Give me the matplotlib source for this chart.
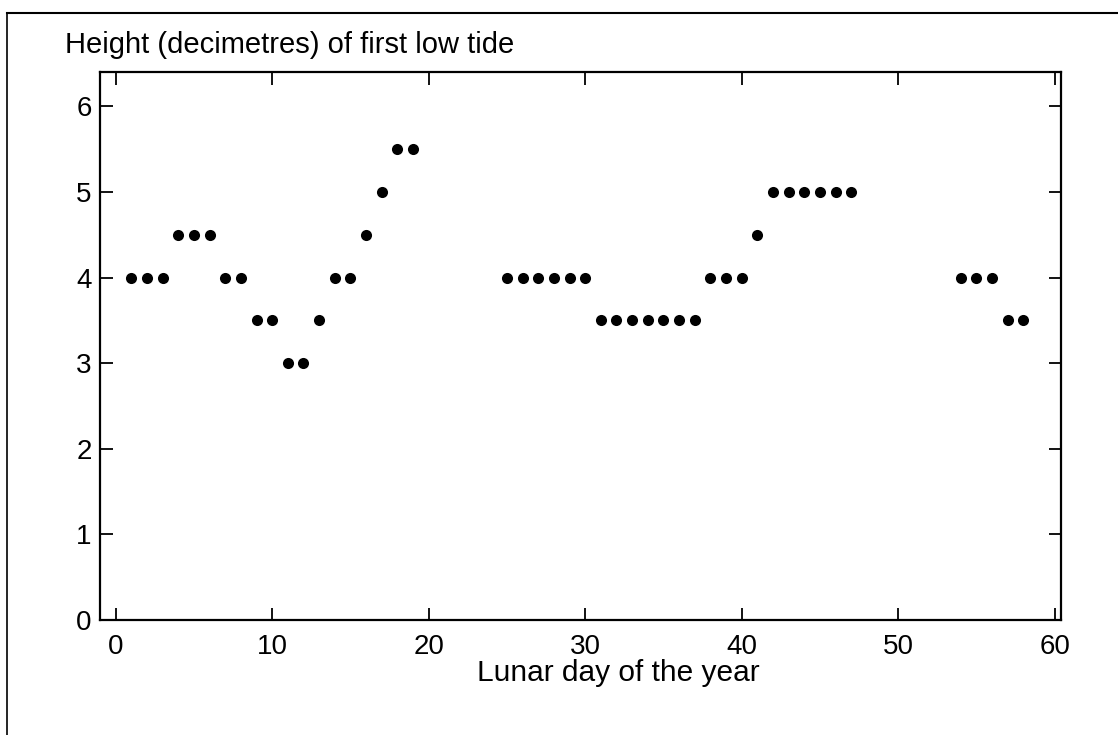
import matplotlib
matplotlib.use("Agg")
import matplotlib.pyplot as plt
from matplotlib.lines import Line2D

plt.rcParams['font.family'] = ['Liberation Sans', 'DejaVu Sans']

days = [1, 2, 3, 4, 5, 6, 7, 8, 9, 10, 11, 12, 13, 14, 15, 16, 17, 18, 19,
        25, 26, 27, 28, 29, 30, 31, 32, 33, 34, 35, 36, 37,
        38, 39, 40, 41, 42, 43, 44, 45, 46, 47,
        54, 55, 56, 57, 58]
heights = [4, 4, 4, 4.5, 4.5, 4.5, 4, 4, 3.5, 3.5, 3, 3, 3.5, 4, 4, 4.5, 5, 5.5, 5.5,
           4, 4, 4, 4, 4, 4, 3.5, 3.5, 3.5, 3.5, 3.5, 3.5, 3.5,
           4, 4, 4, 4.5, 5, 5, 5, 5, 5, 5,
           4, 4, 4, 3.5, 3.5]
xticks = [0, 10, 20, 30, 40, 50, 60]
yticks = [0, 1, 2, 3, 4, 5, 6]
title = "Height (decimetres) of first low tide"
xlabel = "Lunar day of the year"

W, H = 1118, 735
fig = plt.figure(figsize=(W / 100, H / 100), dpi=100)
ax = fig.add_axes([100 / W, 1 - 620 / H, (1061 - 100) / W, (620 - 72) / H])

ax.plot(days, heights, 'o', color='black', markersize=8, markeredgewidth=0)

ax.set_xlim(-1, 60.4)
ax.set_ylim(0, 6.4)
ax.set_xticks(xticks)
ax.set_yticks(yticks)
ax.tick_params(direction='in', length=9, width=1.3, top=True, right=True,
               labelsize=20, colors='black')
ax.tick_params(axis='x', pad=10)
ax.tick_params(axis='y', pad=6)
for s in ax.spines.values():
    s.set_linewidth(1.6)
ax.set_xlabel(xlabel, fontsize=21.5, labelpad=2)
ax.xaxis.set_label_coords((618 - 100) / 961, -0.0, transform=ax.transAxes)
ax.xaxis.label.set_verticalalignment('center')
ax.xaxis.set_label_coords((618 - 100) / 961, -(673 - 620) / 548)

fig.text(65 / W, 1 - 45 / H, title, fontsize=21, ha='left', va='center')

# outer frame lines
fig.add_artist(Line2D([7 / W, 1.0], [1 - 13 / H, 1 - 13 / H], color='black', lw=1.5))
fig.add_artist(Line2D([7 / W, 7 / W], [0.0, 1 - 13 / H], color='black', lw=1.2))

fig.savefig("out.png", dpi=100)
